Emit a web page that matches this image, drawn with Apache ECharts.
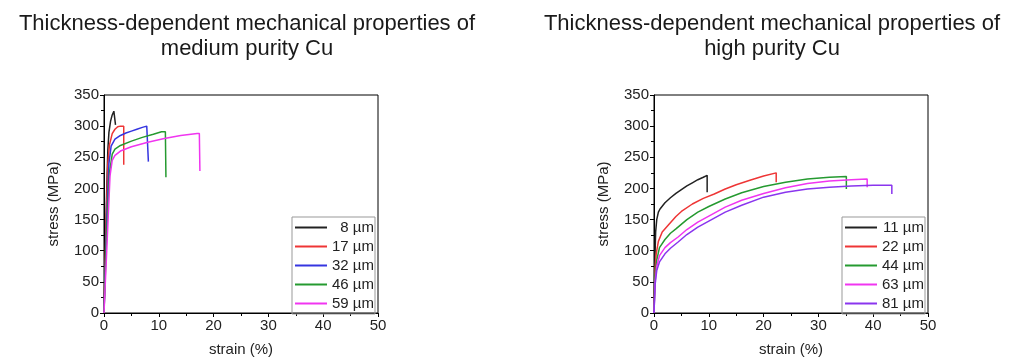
<!DOCTYPE html>
<html>
<head>
<meta charset="utf-8">
<script src="https://cdn.jsdelivr.net/npm/echarts@6/dist/echarts.min.js"></script>
<style>
html,body{margin:0;padding:0;background:#fff;}
#c{width:1024px;height:363px;}
</style>
</head>
<body>
<div id="c"></div>
<script>
// ---- Data ----
const titleLeft = 'Thickness-dependent mechanical properties of\nmedium purity Cu';
const titleRight = 'Thickness-dependent mechanical properties of\nhigh purity Cu';
const xLabel = 'strain (%)';
const yLabel = 'stress (MPa)';

const namesMedium = ['8 µm', '17 µm', '32 µm', '46 µm', '59 µm'];
const med8 = [[0,0],[0.3,120],[0.5,200],[0.7,262],[0.9,290],[1.2,308],[1.5,318],[1.8,324],[2.0,326],[2.1,326],[2.1,302]];
const med17 = [[0,0],[0.4,150],[0.7,240],[1.0,270],[1.5,288],[2.0,295],[2.5,299],[3.0,300],[3.6,300],[3.6,238]];
const med32 = [[0,0],[0.5,150],[0.9,240],[1.3,268],[2,279],[3,285],[4,289],[5,292],[6,295],[7,298],[7.8,300],[8.1,300],[8.1,243]];
const med46 = [[0,0],[0.5,130],[1.0,225],[1.5,255],[2,263],[3,269],[5,276],[7,282],[9,287],[10.5,291],[11.2,291],[11.3,218]];
const med59 = [[0,0],[0.6,120],[1.1,220],[1.5,245],[2,253],[3,260],[5,267],[8,274],[11,280],[14,285],[17,288],[17.4,288],[17.5,228]];

const namesHigh = ['11 µm', '22 µm', '44 µm', '63 µm', '81 µm'];
const high11 = [[0,0],[0.15,80],[0.3,130],[0.5,150],[0.8,162],[1.1,167],[2,177],[3,185],[4,192],[5,198],[6,204],[7,209],[8,214],[9,218],[9.7,221],[9.7,194]];
const high22 = [[0,0],[0.2,70],[0.4,95],[0.8,115],[1.5,130],[2.5,140],[4,155],[5,163],[7,175],[9,184],[11,191],[13,199],[15,206],[17.5,213],[20,220],[22.3,225],[22.3,210]];
const high44 = [[0,0],[0.2,60],[0.5,85],[1,105],[2,118],[3,128],[4,135],[6,150],[8,162],[10,171],[13,183],[16,193],[20,203],[24,210],[28,215],[32,218],[35.1,219],[35.1,199]];
const high63 = [[0,0],[0.2,50],[0.5,75],[1,92],[2,105],[3,113],[4.4,122],[6,134],[8,146],[10.5,158],[13,170],[16,181],[20,192],[24,201],[28,208],[32,212],[36,214],[38.9,215],[38.9,202]];
const high81 = [[0,0],[0.2,45],[0.5,68],[1,82],[2,95],[3,104],[4.4,114],[6,126],[8,138],[10.5,150],[13,162],[16,173],[20,186],[24,194],[28,199],[32,202],[36,204],[40,205],[43.4,205],[43.4,191]];

const xTicks = {min: 0, max: 50, interval: 10};
const yTicks = {min: 0, max: 350, interval: 50};

const colorsMedium = ['#222222', '#ee3535', '#3535e0', '#259a30', '#f035f0'];
const colorsHigh = ['#222222', '#ee3535', '#259a30', '#f035f0', '#8a35ee'];

// ---- Chart ----
const FONT = 'Liberation Sans, Arial, sans-serif';
const grids = [
  {left: 104, top: 95, width: 274, height: 218},
  {left: 654, top: 95, width: 274, height: 218}
];

function xAxis(i) {
  return {
    type: 'value', gridIndex: i, min: xTicks.min, max: xTicks.max, interval: xTicks.interval,
    name: xLabel, nameLocation: 'middle', nameGap: 29,
    nameTextStyle: {fontSize: 15, color: '#222', fontFamily: FONT},
    axisLine: {show: true, onZero: false, lineStyle: {color: '#000', width: 1}},
    axisTick: {show: true, inside: false, length: 4, lineStyle: {color: '#000'}},
    minorTick: {show: true, splitNumber: 2, length: 3, lineStyle: {color: '#000'}},
    axisLabel: {fontSize: 15, color: '#222', margin: 5, fontFamily: FONT},
    splitLine: {show: false}
  };
}
function yAxis(i) {
  return {
    type: 'value', gridIndex: i, min: yTicks.min, max: yTicks.max, interval: yTicks.interval,
    name: yLabel, nameLocation: 'middle', nameGap: 43, nameRotate: 90,
    nameTextStyle: {fontSize: 15, color: '#222', fontFamily: FONT},
    axisLine: {show: true, onZero: false, lineStyle: {color: '#000', width: 1}},
    axisTick: {show: true, inside: false, length: 4, lineStyle: {color: '#000'}},
    minorTick: {show: true, splitNumber: 2, length: 3, lineStyle: {color: '#000'}},
    axisLabel: {fontSize: 15, color: '#222', margin: 5, fontFamily: FONT},
    splitLine: {show: false}
  };
}
function mkSeries(name, data, color, idx) {
  return {
    name: name, type: 'line', xAxisIndex: idx, yAxisIndex: idx, data: data,
    symbol: 'none', color: color, lineStyle: {width: 1.5, color: color},
    animation: false
  };
}
function mkLegend(names, left) {
  return {
    data: names, orient: 'vertical', left: left, top: 217,
    borderColor: '#999', borderWidth: 1, padding: [3, 1, 3, 3],
    icon: 'rect', itemWidth: 32, itemHeight: 2, itemGap: 4,
    textStyle: {
      fontSize: 15, color: '#222', fontFamily: FONT,
      rich: {a: {width: 42, align: 'right', fontSize: 15, lineHeight: 14, color: '#222', fontFamily: FONT}}
    },
    formatter: function (n) { return '{a|' + n + '}'; }
  };
}

const medData = [med8, med17, med32, med46, med59];
const highData = [high11, high22, high44, high63, high81];
const series = [];
namesMedium.forEach((n, i) => series.push(mkSeries(n, medData[i], colorsMedium[i], 0)));
namesHigh.forEach((n, i) => series.push(mkSeries(n, highData[i], colorsHigh[i], 1)));

const chart = echarts.init(document.getElementById('c'));
chart.setOption({
  animation: false,
  backgroundColor: '#fff',
  title: [
    {text: titleLeft, left: 247, top: 11, textAlign: 'center', padding: 0,
     textStyle: {fontSize: 22, fontWeight: 'normal', color: '#1a1a1a', lineHeight: 25, fontFamily: FONT}},
    {text: titleRight, left: 772, top: 11, textAlign: 'center', padding: 0,
     textStyle: {fontSize: 22, fontWeight: 'normal', color: '#1a1a1a', lineHeight: 25, fontFamily: FONT}}
  ],
  grid: grids.map(g => Object.assign({show: true, borderColor: '#000', borderWidth: 1, backgroundColor: 'transparent', containLabel: false}, g)),
  xAxis: [xAxis(0), xAxis(1)],
  yAxis: [yAxis(0), yAxis(1)],
  legend: [mkLegend(namesMedium, 292), mkLegend(namesHigh, 842)],
  series: series
});
</script>
</body>
</html>
